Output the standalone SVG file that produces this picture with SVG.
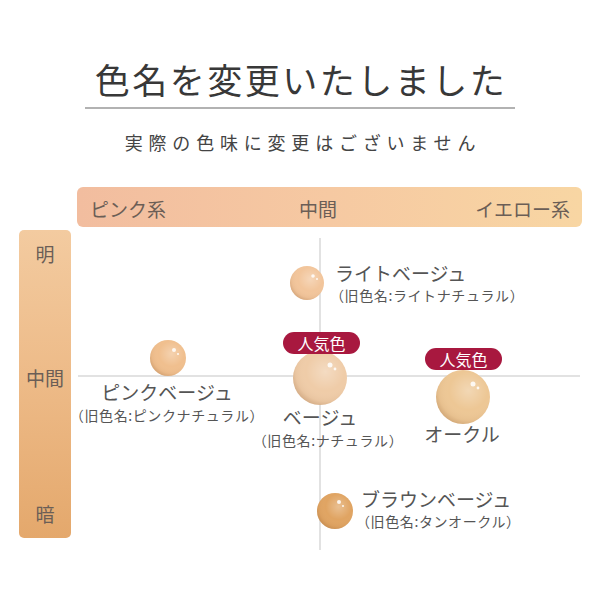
<svg xmlns="http://www.w3.org/2000/svg" width="600" height="600" viewBox="0 0 600 600">
<defs>
<linearGradient id="hbar" x1="0" y1="0" x2="1" y2="0">
<stop offset="0" stop-color="#F2BD9F"/>
<stop offset="0.5" stop-color="#F6C9A2"/>
<stop offset="1" stop-color="#F8D6A3"/>
</linearGradient>
<linearGradient id="vbar" x1="0" y1="0" x2="0" y2="1">
<stop offset="0" stop-color="#F3CBA0"/>
<stop offset="0.5" stop-color="#EDBA87"/>
<stop offset="1" stop-color="#E4A86C"/>
</linearGradient>
<radialGradient id="shade" cx="0.6" cy="0.38" r="0.65">
<stop offset="0" stop-color="#ffffff" stop-opacity="0.3"/>
<stop offset="0.55" stop-color="#ffffff" stop-opacity="0"/>
<stop offset="0.85" stop-color="#8a5528" stop-opacity="0.06"/>
<stop offset="1" stop-color="#8a5528" stop-opacity="0.25"/>
</radialGradient>
<style>
text{font-family:"Noto Sans CJK JP","Noto Sans",sans-serif;dominant-baseline:central;}
.title{font-size:35px;fill:#383838;font-weight:400;letter-spacing:2.5px;}
.sub{font-size:18px;fill:#444;letter-spacing:5.8px;}
.ax{font-size:19px;fill:#6b5e56;}
.nm{font-size:19px;fill:#555;}
.old{font-size:14px;fill:#555;letter-spacing:0.6px;}
.badge{fill:#A8183F;}
.btxt{font-size:16px;fill:#fff;text-anchor:middle;}
.grid{stroke:#d8d8d8;stroke-width:1.5;fill:none;}
.hl{fill:#fff;opacity:0.85;}
</style>
</defs>
<rect width="600" height="600" fill="#fff"/>
<g id="header">
<text class="title" x="301" y="78" text-anchor="middle">色名を変更いたしました</text>
<line x1="85" y1="108" x2="515" y2="108" stroke="#999" stroke-width="1.5"/>
<text class="sub" x="303" y="142" text-anchor="middle">実際の色味に変更はございません</text>
</g>
<g id="axis-h">
<rect x="77" y="187" width="505" height="40" rx="6" fill="url(#hbar)"/>
<text class="ax" x="90" y="208">ピンク系</text>
<text class="ax" x="318" y="208" text-anchor="middle">中間</text>
<text class="ax" x="570" y="208" text-anchor="end">イエロー系</text>
</g>
<g id="axis-v">
<rect x="19" y="230" width="52" height="308" rx="5" fill="url(#vbar)"/>
<text class="ax" x="45" y="253" text-anchor="middle">明</text>
<text class="ax" x="45" y="377" text-anchor="middle">中間</text>
<text class="ax" x="45" y="513" text-anchor="middle">暗</text>
</g>
<g id="connectors">
<line class="grid" x1="320" y1="238" x2="320" y2="550"/>
<line class="grid" x1="78" y1="376" x2="580" y2="376"/>
</g>
<g id="light-beige">
<circle cx="307" cy="283" r="17" fill="#F2C59B"/>
<circle cx="307" cy="283" r="17" fill="url(#shade)"/>
<circle class="hl" cx="313" cy="276" r="1.8"/>
<circle class="hl" cx="317" cy="279" r="1"/>
<text class="nm" x="335" y="272">ライトベージュ</text>
<text class="old" x="330" y="295">（旧色名:ライトナチュラル）</text>
</g>
<g id="pink-beige">
<circle cx="168" cy="358" r="18" fill="#F0BF8E"/>
<circle cx="168" cy="358" r="18" fill="url(#shade)"/>
<circle class="hl" cx="174" cy="350" r="2"/>
<circle class="hl" cx="178" cy="354" r="1.1"/>
<text class="nm" x="167" y="391" text-anchor="middle">ピンクベージュ</text>
<text class="old" x="167" y="415" text-anchor="middle">（旧色名:ピンクナチュラル）</text>
</g>
<g id="beige">
<circle cx="320" cy="378" r="27" fill="#EFCCA8"/>
<circle cx="320" cy="378" r="27" fill="url(#shade)"/>
<circle class="hl" cx="330" cy="365" r="2.5"/>
<circle class="hl" cx="335" cy="369" r="1.4"/>
<rect class="badge" x="283" y="332" width="77" height="22" rx="11"/>
<text class="btxt" x="321.5" y="343">人気色</text>
<text class="nm" x="320" y="416" text-anchor="middle">ベージュ</text>
<text class="old" x="328" y="439.5" text-anchor="middle">（旧色名:ナチュラル）</text>
</g>
<g id="ochre">
<circle cx="463" cy="397" r="27" fill="#EDC795"/>
<circle cx="463" cy="397" r="27" fill="url(#shade)"/>
<circle class="hl" cx="473" cy="384" r="2.5"/>
<circle class="hl" cx="478" cy="388" r="1.4"/>
<rect class="badge" x="425" y="348" width="77" height="22" rx="11"/>
<text class="btxt" x="463.5" y="359">人気色</text>
<text class="nm" x="462" y="433" text-anchor="middle" font-size="20">オークル</text>
</g>
<g id="brown-beige">
<circle cx="335" cy="511" r="18" fill="#E0A462"/>
<circle cx="335" cy="511" r="18" fill="url(#shade)"/>
<circle class="hl" cx="339" cy="502" r="2"/>
<circle class="hl" cx="343" cy="506" r="1.1"/>
<text class="nm" x="361" y="498">ブラウンベージュ</text>
<text class="old" x="356" y="521">（旧色名:タンオークル）</text>
</g>
</svg>
